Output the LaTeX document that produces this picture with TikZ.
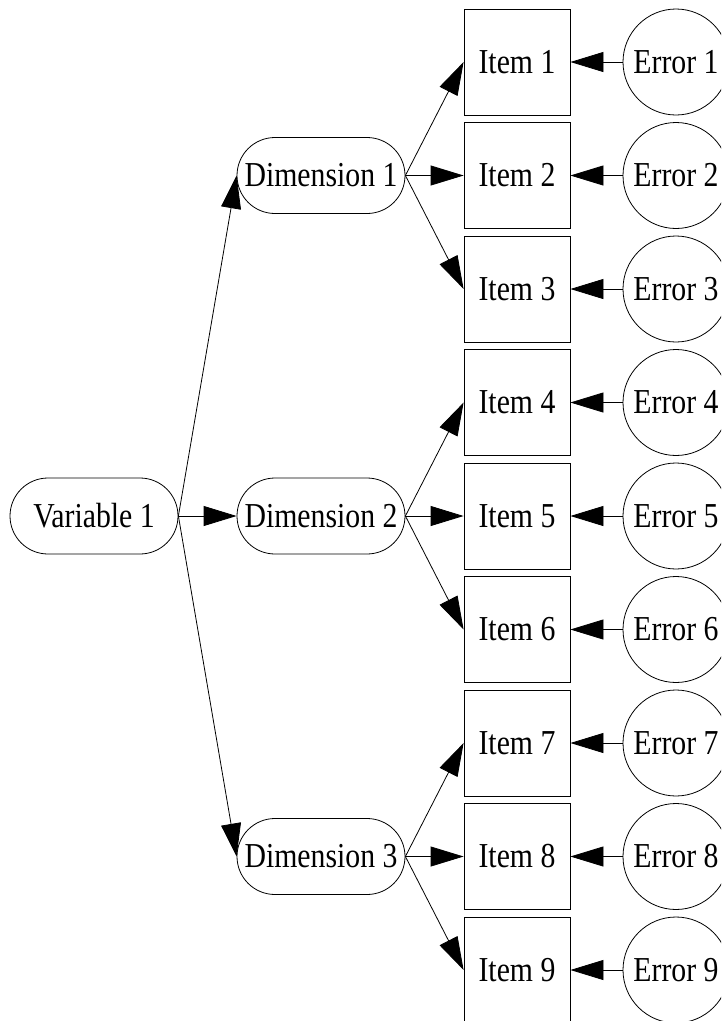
\documentclass[tikz,border=0pt]{standalone}
\usepackage{fontspec}
\setmainfont{Liberation Serif}[FakeStretch=0.85]
\usetikzlibrary{shapes.misc,arrows.meta}
\begin{document}
\begin{tikzpicture}[x=1pt,y=-1pt,
  base/.style={draw,line width=0.8pt,font=\fontsize{35}{40}\selectfont,inner sep=0pt},
  latent/.style={base,rounded rectangle,minimum width=168pt,minimum height=76pt},
  itembox/.style={base,rectangle,minimum width=106pt,minimum height=106pt},
  errc/.style={base,circle,minimum size=106pt},
  arr/.style={line width=0.8pt,-{Triangle[length=33pt,width=20pt]}}]
\useasboundingbox (0,0) rectangle (721,1021);
\clip (0,0) rectangle (721,1021);
\node[latent] (v) at (94,516) {Variable 1};
\foreach \d in {1,2,3}{
  \pgfmathsetmacro{\yy}{175.5+340.5*(\d-1)}
  \node[latent] (d\d) at (321,\yy) {Dimension \d};
}
\foreach \i in {1,...,9}{
  \pgfmathsetmacro{\yy}{62+113.5*(\i-1)}
  \node[itembox] (i\i) at (517,\yy) {Item \i};
  \node[errc] (e\i) at (676,\yy) {Error \i};
  \draw[arr] (e\i.west) -- (i\i.east);
}
\foreach \d in {1,2,3}{
  \draw[arr] (v.east) -- (d\d.west);
  \foreach \k in {2,1,0}{
    \pgfmathtruncatemacro{\j}{3*\d-\k}
    \draw[arr] (d\d.east) -- (i\j.west);
  }
}
\end{tikzpicture}
\end{document}
